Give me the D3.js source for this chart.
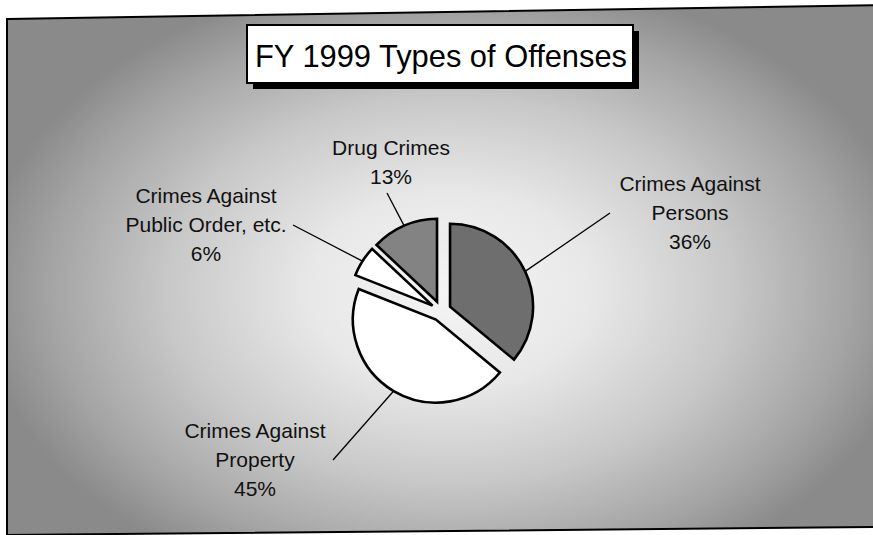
<!DOCTYPE html>
<html>
<head>
<meta charset="utf-8">
<script src="https://cdn.jsdelivr.net/npm/d3@7"></script>
<style>
  html, body { margin: 0; padding: 0; background: #ffffff; }
  svg { display: block; }
  text { font-family: "Liberation Sans", Arial, sans-serif; }
</style>
</head>
<body>
<svg id="chart" width="873" height="535"></svg>
<script>
// FY 1999 offense mix, clockwise from 12 o'clock
const categories = ["Crimes Against Persons", "Crimes Against Property", "Crimes Against Public Order, etc.", "Drug Crimes"];
const shares = [36, 45, 6, 13];
const labelLines = [
  ["Crimes Against", "Persons"],
  ["Crimes Against", "Property"],
  ["Crimes Against", "Public Order, etc."],
  ["Drug Crimes"]
];
const titleText = "FY 1999 Types of Offenses";

// layout & styling
const sliceFill = ["#6e6e6e", "#ffffff", "#ffffff", "#838383"];
const center = [441, 311];
const radius = 83;
const explode = 10;
const labelAnchor = [[690, 183], [255, 430], [206, 195], [391, 147]]; // centre of first text line
const leaderEnd = [[610, 213], [333, 460], [293, 225], [387, 193]];
const lineGap = 29;

const svg = d3.select("#chart");
const defs = svg.append("defs");

const grad = defs.append("radialGradient")
  .attr("id", "bg")
  .attr("gradientUnits", "userSpaceOnUse")
  .attr("cx", 450).attr("cy", 290).attr("r", 470)
  .attr("gradientTransform", "translate(450 290) scale(1 0.68) translate(-450 -290)");
[[0, "#f4f4f4"], [0.3, "#e8e8e8"], [0.6, "#c8c8c8"], [0.85, "#a4a4a4"], [1, "#8a8a8a"]]
  .forEach(([o, c]) => grad.append("stop").attr("offset", o).attr("stop-color", c));

// panel with its slightly skewed border
svg.append("path")
  .attr("d", "M7,19 L884,5 L884,527 L7,535 Z")
  .attr("fill", "url(#bg)")
  .attr("stroke", "#000")
  .attr("stroke-width", 2);

// title box with drop shadow
const tb = { x: 247, y: 25, w: 386, h: 58 };
svg.append("rect").attr("x", tb.x + 6).attr("y", tb.y + 6).attr("width", tb.w).attr("height", tb.h).attr("fill", "#000");
svg.append("rect").attr("x", tb.x).attr("y", tb.y).attr("width", tb.w).attr("height", tb.h)
  .attr("fill", "#fff").attr("stroke", "#000").attr("stroke-width", 2);
svg.append("text")
  .attr("x", tb.x + 8).attr("y", tb.y + 42)
  .attr("font-size", 32)
  .attr("textLength", 372).attr("lengthAdjust", "spacingAndGlyphs")
  .attr("fill", "#000")
  .text(titleText);

// exploded pie
const pie = d3.pie().sort(null).value(d => d).startAngle(0).endAngle(2 * Math.PI);
const arcs = pie(shares);
const arc = d3.arc().innerRadius(0).outerRadius(radius);
const rim = d3.arc().innerRadius(radius).outerRadius(radius);

const g = svg.append("g").attr("transform", `translate(${center[0]},${center[1]})`);
const off = a => {
  const m = (a.startAngle + a.endAngle) / 2;
  return [Math.sin(m) * explode, -Math.cos(m) * explode];
};

g.selectAll("path.slice")
  .data(arcs)
  .join("path")
  .attr("class", "slice")
  .attr("transform", d => `translate(${off(d)[0]},${off(d)[1]})`)
  .attr("d", arc)
  .attr("fill", (d, i) => sliceFill[i])
  .attr("stroke", "#000")
  .attr("stroke-width", 2.6)
  .attr("stroke-linejoin", "miter");

// leader lines from each rim midpoint to its label
svg.selectAll("line.leader")
  .data(arcs)
  .join("line")
  .attr("class", "leader")
  .attr("x1", d => center[0] + off(d)[0] + rim.centroid(d)[0])
  .attr("y1", d => center[1] + off(d)[1] + rim.centroid(d)[1])
  .attr("x2", (d, i) => leaderEnd[i][0])
  .attr("y2", (d, i) => leaderEnd[i][1])
  .attr("stroke", "#000")
  .attr("stroke-width", 1.3);

// labels: name lines then percentage
const fs = 21;
arcs.forEach((d, i) => {
  const lines = labelLines[i].concat([`${shares[i]}%`]);
  const t = svg.append("text")
    .attr("text-anchor", "middle")
    .attr("font-size", fs)
    .attr("fill", "#111");
  lines.forEach((s, k) => {
    t.append("tspan")
      .attr("x", labelAnchor[i][0])
      .attr("y", labelAnchor[i][1] + k * lineGap + fs * 0.36)
      .text(s);
  });
});
</script>
</body>
</html>
